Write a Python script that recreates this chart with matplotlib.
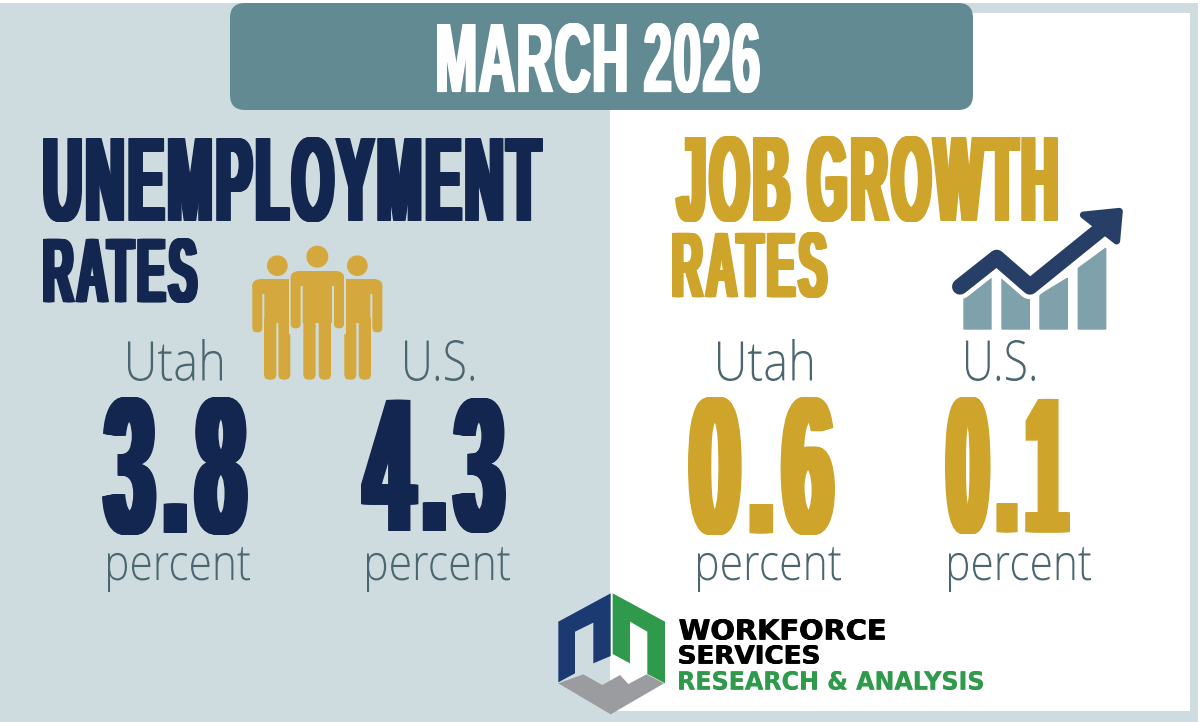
import numpy as np
import matplotlib
matplotlib.use("Agg")
import matplotlib.pyplot as plt
from matplotlib.font_manager import FontProperties
from matplotlib.patches import Rectangle, FancyBboxPatch, Polygon, Circle
from matplotlib.path import Path
from matplotlib.patheffects import AbstractPathEffect
from matplotlib.textpath import TextPath
from matplotlib.transforms import Affine2D

# ---- content ----
title = "MARCH 2026"
unemp_heading = ["UNEMPLOYMENT", "RATES"]
growth_heading = ["JOB GROWTH", "RATES"]
regions = ["Utah", "U.S."]
unemployment_rates = [3.8, 4.3]
job_growth_rates = [0.6, 0.1]
unit_label = "percent"
logo_lines = ["WORKFORCE", "SERVICES", "RESEARCH & ANALYSIS"]

# ---- colours ----
PALE = "#CEDCDF"
TEAL = "#628A93"
NAVY = "#12264F"
GOLD = "#CFA42B"
SLATE = "#4C6670"
ICON_GOLD = "#D4A83C"
ICON_NAVY = "#273F66"
ICON_BAR = "#7FA1AB"
LOGO_BLUE = "#1B3A72"
LOGO_GREEN = "#2F9A4B"
LOGO_GRAY = "#9A9CA0"

W, H, DPI = 1200, 722, 100
fig = plt.figure(figsize=(W / DPI, H / DPI), dpi=DPI, facecolor="white")
ax = fig.add_axes([0, 0, 1, 1])
ax.set_xlim(0, W)
ax.set_ylim(H, 0)
ax.axis("off")

HEAD = FontProperties(family="Liberation Sans", weight="bold")
LIGHT = FontProperties(family="Open Sans", weight="light")
WIDE = FontProperties(family="DejaVu Sans", weight="bold")


def glyph_clusters(verts, codes):
    """Return a cluster index per vertex; contours overlapping in x form one glyph."""
    starts = list(np.where(codes == Path.MOVETO)[0]) + [len(codes)]
    spans = [(verts[a:b, 0].min(), verts[a:b, 0].max(), a, b) for a, b in zip(starts[:-1], starts[1:])]
    spans.sort()
    labels = np.zeros(len(verts), dtype=int)
    idx, cur_lo, cur_hi = -1, None, None
    for lo, hi, a, b in spans:
        new = True
        if cur_hi is not None:
            overlap = min(hi, cur_hi) - max(lo, cur_lo)
            new = overlap <= 0.5 * min(hi - lo, cur_hi - cur_lo)
        if new:
            idx += 1
            cur_lo, cur_hi = lo, hi
        else:
            cur_lo, cur_hi = min(lo, cur_lo), max(hi, cur_hi)
        labels[a:b] = idx
    return labels


class Condense(AbstractPathEffect):
    """Stretch glyphs about the baseline, thicken stems sideways and space glyphs."""

    def __init__(self, cy, sy, smear=0.0, track=0.0):
        super().__init__()
        self.cy, self.sy, self.smear, self.track = cy, sy, smear, track

    def draw_path(self, renderer, gc, tpath, affine, rgbFace=None):
        verts = affine.transform(tpath.vertices)
        codes = np.asarray(tpath.codes)
        verts[:, 1] = self.cy + (verts[:, 1] - self.cy) * self.sy
        if self.track:
            verts[:, 0] += glyph_clusters(verts, codes) * self.track
        n = max(1, int(np.ceil(self.smear / 0.75)) + 1)
        for dx in np.linspace(-self.smear / 2, self.smear / 2, n):
            gc0 = renderer.new_gc()
            gc0.copy_properties(gc)
            gc0.set_linewidth(0)
            renderer.draw_path(gc0, Path(verts + [dx, 0], codes), Affine2D(), rgbFace)
            gc0.restore()


def fit_text(s, x0, x1, ytop, ybot, color, fp, smear=0.0, track=0.0):
    """Place text so that its ink fills the given pixel box."""
    tp = TextPath((0, 0), s, size=100, prop=fp)
    bb = tp.get_extents()
    n = glyph_clusters(np.array(tp.vertices), np.asarray(tp.codes)).max() + 1
    k = (x1 - x0 - smear - (n - 1) * track) / bb.width
    fs = 100 * k * 72 / DPI
    sy = (ybot - ytop) / (bb.height * k)
    x = x0 + smear / 2 - bb.x0 * k
    y = ybot + bb.y0 * k * sy
    t = ax.text(x, y, s, color=color, fontproperties=fp, fontsize=fs, ha="left", va="baseline", zorder=5)
    t.set_path_effects([Condense(H - y, sy, smear, track)])
    return t


# ---- background ----
ax.add_patch(Rectangle((0, 3), 1198, 719, fc=PALE, ec="none", zorder=0))
ax.add_patch(Rectangle((610, 13), 580, 698, fc="white", ec="none", zorder=1))
ax.add_patch(FancyBboxPatch((245, 3 + 15), 713, 77, boxstyle="round,pad=15,rounding_size=15",
                            fc=TEAL, ec="none", zorder=2))

# ---- headings ----
fit_text(title, 437, 760, 23, 93, "white", HEAD, smear=3.5, track=1.5)
fit_text(unemp_heading[0], 43, 543, 137, 222, NAVY, HEAD, smear=7, track=4)
fit_text(unemp_heading[1], 43, 198, 238, 303, NAVY, HEAD, smear=5.5, track=3.5)
fit_text(growth_heading[0], 675, 1058, 136, 222, GOLD, HEAD, smear=7, track=4)
fit_text(growth_heading[1], 672, 828, 232, 298, GOLD, HEAD, smear=5.5, track=3.5)

# ---- regions, values, units ----
fit_text(regions[0], 128, 222, 339, 381, SLATE, LIGHT)
fit_text(regions[1], 405, 474, 340, 381, SLATE, LIGHT)
fit_text(regions[0], 718, 812, 339, 381, SLATE, LIGHT)
fit_text(regions[1], 966, 1035, 340, 381, SLATE, LIGHT)

fit_text(f"{unemployment_rates[0]:.1f}", 102, 248, 397, 535, NAVY, HEAD, smear=11, track=9)
fit_text(f"{unemployment_rates[1]:.1f}", 361, 506, 398, 533, NAVY, HEAD, smear=11, track=9)
fit_text(f"{job_growth_rates[0]:.1f}", 688, 835, 397, 535, GOLD, HEAD, smear=11, track=9)
fit_text(f"{job_growth_rates[1]:.1f}", 945, 1070, 397, 534, GOLD, HEAD, smear=11, track=9)

for a, b in [(108, 250), (367, 510), (698, 841), (949, 1091)]:
    fit_text(unit_label, a, b, 547, 592, SLATE, LIGHT)


# ---- people icon ----
def ipx(x, y):
    return 240 + x / 3, 235 + y / 3


def round_box(x0, y0, x1, y1, r, color=ICON_GOLD, z=3):
    ax0, ay0 = ipx(x0, y0)
    ax1, ay1 = ipx(x1, y1)
    r /= 3
    ax.add_patch(FancyBboxPatch((ax0 + r, ay0 + r), ax1 - ax0 - 2 * r, ay1 - ay0 - 2 * r,
                                boxstyle=f"round,pad={r},rounding_size={r}", fc=color, ec="none", zorder=z))


def person(head_x, head_y, head_r, sx0, sx1, top, arm_w, arm_bot, legs, z=3):
    ax.add_patch(Circle(ipx(head_x, head_y), head_r / 3, fc=ICON_GOLD, ec="none", zorder=z))
    round_box(sx0, top, sx1, top + 45, 25, z=z)
    round_box(sx0, top + 5, sx0 + arm_w, arm_bot, 14, z=z)
    round_box(sx1 - arm_w, top + 5, sx1, arm_bot, 14, z=z)
    gap = 6
    round_box(sx0 + arm_w + gap, top + 10, sx1 - arm_w - gap, 264, 1, z=z)
    for lx0, lx1 in legs:
        round_box(lx0, 240, lx1, 434, 16, z=z)


person(112, 92, 31, 37, 187, 132, 30, 292, [(72, 109), (115, 151)])
person(352, 92, 31, 277, 427, 132, 30, 292, [(313, 349), (356, 393)])
# the centre figure stands in front: mask the side figures' inner arms
for a, b in [(146, 200), (264, 318)]:
    a0, a1 = ipx(a, 100)
    a2, a3 = ipx(b, 296)
    ax.add_patch(Rectangle((a0, a1), a2 - a0, a3 - a1, fc=PALE, ec="none", zorder=3.6))
person(232, 65, 33, 152, 312, 108, 30, 280, [(190, 227), (236, 273)], z=4)


# ---- growth icon ----
def gpx(pts):
    return [(940 + x / 3, 195 + y / 3) for x, y in pts]


bars = [
    [(72, 300), (153, 250), (153, 402), (72, 402)],
    [(186, 250), (268, 300), (268, 402), (186, 402)],
    [(300, 300), (382, 250), (382, 402), (300, 402)],
    [(415, 220), (497, 160), (497, 402), (415, 402)],
]
for b in bars:
    ax.add_patch(Polygon(gpx(b), closed=True, fc=ICON_BAR, ec=ICON_BAR, lw=1.0, joinstyle="round", zorder=3))
xs, ys = zip(*gpx([(60, 275), (170, 188), (270, 275), (505, 85)]))
ax.plot(xs, ys, color="white", lw=18, solid_capstyle="round", solid_joinstyle="round", zorder=3.5)
ax.plot(xs, ys, color=ICON_NAVY, lw=11.5, solid_capstyle="round", solid_joinstyle="round", zorder=4)
ax.add_patch(Polygon(gpx([(430, 60), (538, 49), (530, 138)]), closed=True, fc=ICON_NAVY, ec=ICON_NAVY,
                     lw=5, joinstyle="round", zorder=4))


# ---- logo ----
def lpx(pts):
    return [(540 + x / 3, 580 + y / 3) for x, y in pts]


logo_blue = [(55, 307), (55, 125), (212, 40), (212, 228), (160, 250), (160, 128), (105, 155), (105, 280)]
logo_green = [(218, 40), (375, 125), (375, 310), (322, 282), (322, 155), (270, 125), (270, 250), (218, 222)]
logo_gray = [(55, 310), (130, 283), (187, 315), (240, 285), (265, 312), (320, 283), (372, 310), (212, 403)]
for pts, c in [(logo_blue, LOGO_BLUE), (logo_green, LOGO_GREEN), (logo_gray, LOGO_GRAY)]:
    ax.add_patch(Polygon(lpx(pts), closed=True, fc=c, ec="none", zorder=3))

fit_text(logo_lines[0], 679, 885, 619, 640, "black", WIDE, smear=1)
fit_text(logo_lines[1], 679, 819, 645, 664, "black", WIDE, smear=1)
fit_text(logo_lines[2], 679, 983, 671, 690, LOGO_GREEN, WIDE, smear=0.5)

fig.savefig("out.png", dpi=DPI, facecolor="white")
